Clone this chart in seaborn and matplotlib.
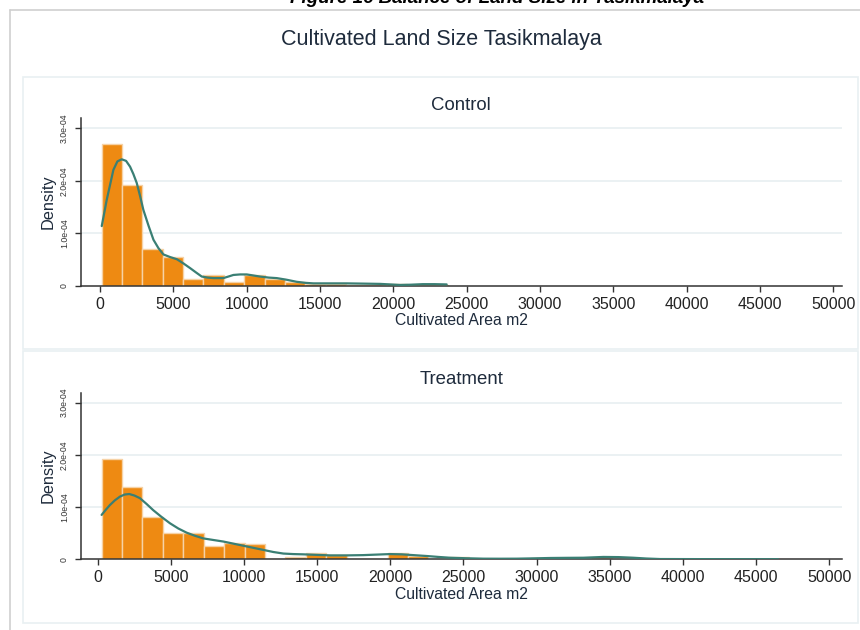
import numpy as np
import pandas as pd
import matplotlib
matplotlib.use("Agg")
import matplotlib.pyplot as plt
from matplotlib.patches import Rectangle
from matplotlib.lines import Line2D
import seaborn as sns

# ---------------- data ----------------
panel_titles = ["Control", "Treatment"]
main_title = "Cultivated Land Size Tasikmalaya"
caption = "Figure 16 Balance of Land Size in Tasikmalaya"
x_label = "Cultivated Area m2"
y_label = "Density"
x_ticks = [0, 5000, 10000, 15000, 20000, 25000, 30000, 35000, 40000, 45000, 50000]
y_ticks = [0, 1e-4, 2e-4, 3e-4]
y_tick_labels = ["0", "1.0e-04", "2.0e-04", "3.0e-04"]

# histogram bins: start, width, density heights (x 1e-4)
control_bin_start = 115
control_bin_width = 1387
control_heights = [2.70, 1.92, 0.70, 0.55, 0.13, 0.20, 0.07, 0.20, 0.13, 0.08,
                   0.04, 0.03, 0.02, 0.02, 0.03, 0.02, 0.02]

treatment_bin_start = 270
treatment_bin_width = 1396
treatment_heights = [1.92, 1.39, 0.81, 0.51, 0.51, 0.26, 0.31, 0.30, 0.00, 0.04,
                     0.13, 0.08, 0.00, 0.00, 0.13, 0.07, 0.00, 0.04, 0.00, 0.00,
                     0.00, 0.03, 0.00, 0.00, 0.03, 0.00, 0.00, 0.00, 0.00, 0.00,
                     0.00, 0.00, 0.01]

# kernel density curves (x in m2, density x 1e-4)
control_kde_x = [115, 455, 909, 1182, 1477, 1773, 2045, 2270, 2500, 2720, 2950,
                 3300, 3640, 3980, 4320, 4780, 5230, 5680, 6140, 6530, 6930,
                 7330, 7730, 8400, 8750, 9090, 9550, 10000, 10450, 10900,
                 11500, 12050, 12700, 13400, 14000, 14540, 15600, 16800,
                 18000, 19100, 20450, 21200, 22000, 22800, 23630]
control_kde_y = [1.14, 1.64, 2.21, 2.37, 2.41, 2.38, 2.27, 2.13, 1.96, 1.72, 1.45,
                 1.15, 0.88, 0.72, 0.60, 0.55, 0.51, 0.43, 0.34, 0.26, 0.18,
                 0.16, 0.15, 0.15, 0.18, 0.21, 0.22, 0.22, 0.20, 0.18,
                 0.16, 0.15, 0.12, 0.08, 0.06, 0.05, 0.05, 0.05,
                 0.045, 0.04, 0.02, 0.025, 0.035, 0.035, 0.03]

treatment_kde_x = [270, 560, 840, 1180, 1520, 1840, 2160, 2520, 2890, 3340, 3800,
                   4370, 4940, 5510, 6080, 6650, 7220, 7900, 8590, 9270, 9950,
                   10630, 11320, 12000, 12690, 13370, 14050, 14960, 15880,
                   17000, 18150, 19060, 19980, 20780, 21570, 22490, 23300,
                   24080, 25200, 26360, 27500, 28640, 29800, 30920, 32050,
                   33190, 34560, 35600, 36610, 37500, 38440, 40200, 42000,
                   44200, 46500]
treatment_kde_y = [0.85, 0.95, 1.04, 1.13, 1.20, 1.24, 1.25, 1.22, 1.17, 1.06, 0.94,
                   0.81, 0.69, 0.59, 0.51, 0.45, 0.40, 0.37, 0.34, 0.30, 0.26,
                   0.22, 0.18, 0.14, 0.11, 0.10, 0.095, 0.085, 0.075,
                   0.075, 0.08, 0.09, 0.10, 0.095, 0.08, 0.063, 0.045,
                   0.03, 0.02, 0.012, 0.011, 0.012, 0.018, 0.025, 0.028,
                   0.03, 0.045, 0.042, 0.03, 0.015, 0.005, 0.004, 0.003,
                   0.002, 0.002]

# ---------------- style ----------------
sns.set_theme(style="white")
plt.rcParams["font.family"] = ["Liberation Sans", "DejaVu Sans"]

BAR = "#EE8A12"
BAR_EDGE = "#F6D2A6"
LINE = "#3A7F74"
TXT = "#1E2B3C"
GRID = "#E7EFF1"
PANEL = "#E9F0F2"

W, H = 860, 630
fig = plt.figure(figsize=(8.6, 6.3), dpi=100)
fig.patch.set_facecolor("white")


def fx(px):
    return px / W


def fy(py):
    return 1 - py / H


# outer page frame
fig.add_artist(Line2D([fx(10), fx(10)], [fy(10), fy(630)], color="#cfcfcf", lw=1.2,
                      transform=fig.transFigure))
fig.add_artist(Line2D([fx(10), fx(860)], [fy(10), fy(10)], color="#cfcfcf", lw=1.2,
                      transform=fig.transFigure))

# caption (cut off at the top, as in the reference)
fig.text(fx(497), fy(3), caption, ha="center", va="baseline", fontsize=13.5,
         fontweight="bold", fontstyle="italic", color="black")

# main title
fig.text(fx(441), fy(40), main_title, ha="center", va="center", fontsize=15.5,
         color=TXT)

# panel frames
for top, bot in [(77, 349), (351, 623)]:
    fig.add_artist(Rectangle((fx(23), fy(bot)), fx(858) - fx(23), fy(top) - fy(bot),
                             fill=False, edgecolor=PANEL, lw=1.2,
                             transform=fig.transFigure))

axes_boxes = [(80.7, 842, 118.3, 286), (80.7, 842, 392.7, 559.3)]
title_y = [105, 379]
datasets = [
    (control_bin_start, control_bin_width, control_heights, control_kde_x, control_kde_y),
    (treatment_bin_start, treatment_bin_width, treatment_heights, treatment_kde_x, treatment_kde_y),
]
xlims = [(-1320, 50580), (-1160, 50870)]

for i, ((l, r, t, b), (bstart, bwidth, heights, kx, ky)) in enumerate(zip(axes_boxes, datasets)):
    ax = fig.add_axes([fx(l), fy(b), fx(r) - fx(l), fy(t) - fy(b)])
    ax.set_facecolor("white")
    n = len(heights)
    edges = [bstart + bwidth * k for k in range(n + 1)]
    centers = [bstart + bwidth * (k + 0.5) for k in range(n)]
    df = pd.DataFrame({"x": centers, "w": [h * 1e-4 for h in heights]})
    for yt in y_ticks[1:]:
        ax.axhline(yt, color=GRID, lw=1.2, zorder=0)
    sns.histplot(data=df, x="x", weights="w", bins=edges, stat="count", ax=ax,
                 color=BAR, edgecolor=BAR_EDGE, linewidth=1.0, alpha=1.0, zorder=2)
    kdf = pd.DataFrame({"x": kx, "y": [v * 1e-4 for v in ky]})
    sns.lineplot(data=kdf, x="x", y="y", ax=ax, color=LINE, lw=1.6, zorder=3)

    ax.set_xlim(*xlims[i])
    ax.set_ylim(0, 3.19e-4)
    ax.set_xticks(x_ticks)
    ax.set_xticklabels([str(v) for v in x_ticks], fontsize=11.5, color="#222222")
    ax.set_yticks(y_ticks)
    ax.set_yticklabels(y_tick_labels, fontsize=6.3, rotation=90, va="center",
                       color="#333333")
    ax.tick_params(axis="x", direction="out", length=4, width=1, color="#333333",
                   pad=4, bottom=True)
    ax.tick_params(axis="y", direction="out", length=4, width=1, color="#333333",
                   pad=4.5, left=True)
    ax.set_xlabel(x_label, fontsize=11.3, color=TXT, labelpad=1)
    ax.set_ylabel(y_label, fontsize=11.8, color=TXT, labelpad=3)
    for s in ["top", "right"]:
        ax.spines[s].set_visible(False)
    for s in ["left", "bottom"]:
        ax.spines[s].set_color("#333333")
        ax.spines[s].set_linewidth(1.1)
    ax.grid(False)
    fig.text(fx((l + r) / 2), fy(title_y[i]), panel_titles[i], ha="center",
             va="center", fontsize=13.4, color=TXT)

fig.savefig("out.png", dpi=100, facecolor="white")
